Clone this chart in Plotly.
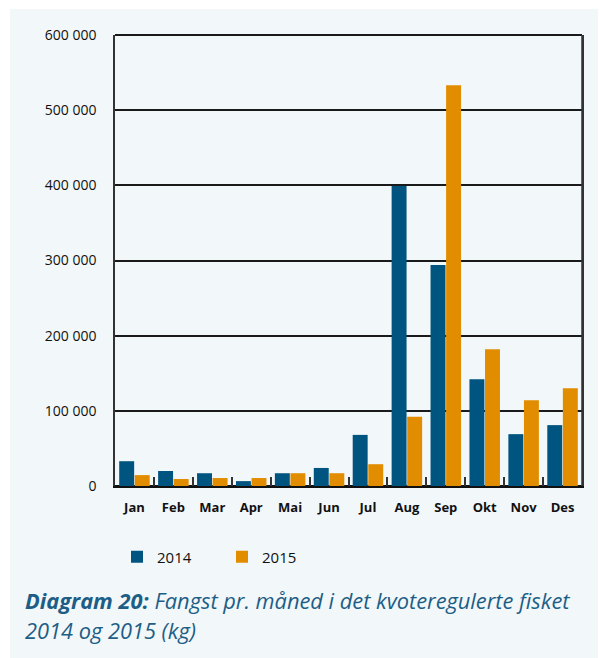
import plotly.graph_objects as go

months = ["Jan", "Feb", "Mar", "Apr", "Mai", "Jun", "Jul", "Aug", "Sep", "Okt", "Nov", "Des"]
values_2014 = [33000, 20000, 17000, 6500, 17000, 24000, 68000, 399000, 294000, 142000, 69000, 81000]
values_2015 = [14500, 9300, 10600, 10600, 17000, 17000, 29000, 92000, 533000, 182000, 114000, 130000]
ytick_vals = [0, 100000, 200000, 300000, 400000, 500000, 600000]
ytick_text = ["0", "100 000", "200 000", "300 000", "400 000", "500 000", "600 000"]

OFF = 8  # page body margin
W, H = 606 - OFF, 658 - OFF
# plot area in screen pixels
SL, SR, ST, SB = 115, 582, 35, 486
L, R, T, B = SL - OFF, SR - OFF, ST - OFF, SB - OFF
pw, ph = R - L, B - T

def px_x(p):  # screen px -> paper
    return (p - OFF - L) / pw

def px_y(p):
    return (B - (p - OFF)) / ph

BLUE = "#005580"
ORANGE = "#e28d00"
PANEL = "#f2f7fa"
CAPTION = "#1d5e86"

fig = go.Figure()
fig.add_trace(go.Bar(x=months, y=values_2014, name="2014", marker=dict(color=BLUE, line=dict(width=0))))
fig.add_trace(go.Bar(x=months, y=values_2015, name="2015", marker=dict(color=ORANGE, line=dict(width=0))))

fig.update_layout(
    width=W, height=H,
    margin=dict(l=L, r=W - R, t=T, b=H - B, pad=0),
    paper_bgcolor="white",
    plot_bgcolor="rgba(0,0,0,0)",
    barmode="group",
    bargap=0.2,
    bargroupgap=0.04,
    font=dict(family="Open Sans", color="#111111"),
    showlegend=True,
    legend=dict(
        orientation="h", x=px_x(117), y=px_y(557), xanchor="left", yanchor="middle",
        font=dict(size=15, family="Open Sans", color="#111111"),
        bgcolor="rgba(0,0,0,0)", entrywidth=60, itemsizing="constant",
    ),
    xaxis=dict(
        showline=True, linecolor="#111111", linewidth=2, mirror=False,
        ticks="inside", tickson="boundaries", ticklen=9, tickcolor="#333333", tickwidth=1.5,
        tickfont=dict(size=13, family="Open Sans", color="#111111", weight="bold"),
        ticklabelstandoff=8,
        showgrid=False,
    ),
    yaxis=dict(
        range=[0, 600000], tickvals=ytick_vals, ticktext=ytick_text,
        showline=True, linecolor="#333333", linewidth=1.5, mirror=True,
        showgrid=True, gridcolor="#1a1a1a", gridwidth=2,
        zeroline=True, zerolinecolor="#111111", zerolinewidth=2,
        ticks="", ticklabelstandoff=14,
        tickfont=dict(size=14, family="Open Sans", color="#111111"),
    ),
    shapes=[
        dict(type="rect", xref="paper", yref="paper", layer="below",
             x0=px_x(10), x1=px_x(606), y0=px_y(658), y1=px_y(9),
             fillcolor=PANEL, line=dict(width=0)),
        dict(type="line", xref="paper", yref="paper", layer="above",
             x0=0, x1=1, y0=1, y1=1, line=dict(color="#1a1a1a", width=2)),
        dict(type="line", xref="paper", yref="paper", layer="above",
             x0=1, x1=1, y0=0, y1=1, line=dict(color="#333333", width=1.5)),
    ],
    annotations=[
        dict(xref="paper", yref="paper", x=px_x(23), y=px_y(600), xanchor="left", yanchor="middle",
             showarrow=False, align="left",
             text="<b><i>Diagram 20:</i></b><i> Fangst pr. måned i det kvoteregulerte fisket</i>",
             font=dict(size=21.8, family="Open Sans", color=CAPTION)),
        dict(xref="paper", yref="paper", x=px_x(23), y=px_y(630), xanchor="left", yanchor="middle",
             showarrow=False, align="left",
             text="<i>2014 og 2015 (kg)</i>",
             font=dict(size=21.8, family="Open Sans", color=CAPTION)),
    ],
)

fig.write_html("out.html")
